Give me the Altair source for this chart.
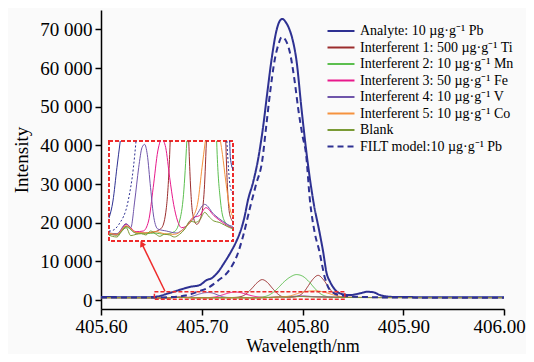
import altair as alt
import pandas as pd

# ---------------- data ----------------
series_names = [
    "Analyte: 10 µg·g⁻¹ Pb",
    "Interferent 1: 500 µg·g⁻¹ Ti",
    "Interferent 2: 10 µg·g⁻¹ Mn",
    "Interferent 3: 50 µg·g⁻¹ Fe",
    "Interferent 4: 10 µg·g⁻¹ V",
    "Interferent 5: 10 µg·g⁻¹ Co",
    "Blank",
    "FILT model:10 µg·g⁻¹ Pb",
]

wl_an = [405.60, 405.62, 405.64, 405.652, 405.659, 405.665, 405.672, 405.680, 405.688, 405.698,
         405.705, 405.710, 405.716, 405.722, 405.729, 405.734, 405.738, 405.742, 405.746, 405.751,
         405.756, 405.761, 405.765, 405.770, 405.774, 405.7775, 405.780, 405.783, 405.787, 405.790,
         405.794, 405.799, 405.804, 405.8106, 405.8173, 405.8205, 405.8239, 405.8272, 405.830, 405.837,
         405.847, 405.857, 405.864, 405.870, 405.877, 405.887, 405.90, 405.95, 406.00]
I_an = [800, 760, 720, 800, 1100, 1600, 2150, 2800, 3400, 3900,
        5200, 5700, 7200, 9500, 12500, 15000, 17500, 21000, 26000, 30500,
        36500, 45000, 53500, 63500, 69500, 72200, 72700, 72000, 70000, 67500,
        62000, 49500, 38000, 25800, 17000, 12500, 7000, 4800, 3500, 1750,
        1300, 1750, 2150, 2050, 1300, 860, 780, 750, 750]

wl_ti = [405.60, 405.64, 405.665, 405.679, 405.694, 405.709, 405.723, 405.733, 405.740, 405.745,
         405.750, 405.755, 405.760, 405.765, 405.770, 405.775, 405.780, 405.786, 405.792, 405.797,
         405.802, 405.806, 405.810, 405.8155, 405.821, 405.826, 405.831, 405.836, 405.845, 405.88, 406.00]
I_ti = [630, 620, 590, 720, 620, 620, 640, 700, 1000, 1800,
        3100, 4500, 5300, 4600, 3100, 1700, 900, 750, 850, 1200,
        2300, 3800, 5300, 6400, 5200, 3300, 1700, 900, 700, 660, 650]

wl_mn = [405.60, 405.64, 405.665, 405.679, 405.694, 405.709, 405.723, 405.737, 405.752, 405.760,
         405.766, 405.771, 405.776, 405.782, 405.788, 405.794, 405.800, 405.806, 405.812, 405.817,
         405.822, 405.828, 405.836, 405.845, 405.88, 406.00]
I_mn = [630, 620, 590, 710, 620, 610, 620, 600, 640, 800,
        1200, 2000, 3200, 4800, 6000, 6600, 6200, 4900, 3100, 1800,
        1100, 800, 720, 680, 660, 650]

wl_fe = [405.60, 405.64, 405.665, 405.679, 405.694, 405.705, 405.713, 405.720, 405.727, 405.733,
         405.739, 405.745, 405.751, 405.757, 405.763, 405.770, 405.780, 405.790, 405.800, 405.812,
         405.825, 405.840, 405.88, 406.00]
I_fe = [640, 630, 600, 750, 640, 650, 800, 1300, 1850, 2100,
        1900, 1450, 1050, 800, 700, 720, 850, 880, 1000, 880,
        780, 700, 660, 650]

wl_v = [405.60, 405.64, 405.665, 405.679, 405.686, 405.692, 405.698, 405.703, 405.707, 405.711,
        405.716, 405.721, 405.727, 405.740, 405.755, 405.770, 405.785, 405.798, 405.812, 405.825,
        405.840, 405.88, 406.00]
I_v = [640, 630, 610, 760, 700, 1100, 1600, 1900, 1950, 1800,
       1300, 850, 680, 650, 620, 720, 880, 1050, 900, 800,
       720, 670, 650]

wl_co = [405.60, 405.64, 405.665, 405.679, 405.694, 405.709, 405.723, 405.737, 405.752, 405.768,
         405.780, 405.788, 405.794, 405.799, 405.805, 405.812, 405.819, 405.825, 405.830, 405.836,
         405.845, 405.88, 406.00]
I_co = [660, 640, 600, 730, 630, 620, 640, 610, 600, 700,
        850, 1100, 1600, 2000, 2300, 2400, 2200, 1800, 1400, 1000,
        750, 680, 670]

wl_bl = [405.60, 405.62, 405.64, 405.652, 405.658, 405.665, 405.672, 405.679, 405.686, 405.694,
         405.702, 405.709, 405.716, 405.723, 405.730, 405.737, 405.745, 405.752, 405.760, 405.768,
         405.776, 405.784, 405.791, 405.798, 405.805, 405.812, 405.820, 405.828, 405.836, 405.845,
         405.86, 405.88, 405.92, 405.96, 406.00]
I_bl = [620, 610, 600, 590, 570, 560, 640, 700, 580, 600,
        610, 590, 650, 610, 570, 600, 590, 560, 600, 680,
        800, 780, 820, 930, 860, 800, 780, 740, 700, 670,
        650, 640, 630, 630, 630]

wl_fi = [405.60, 405.62, 405.64, 405.655, 405.668, 405.682, 405.690, 405.696, 405.705, 405.716,
         405.728, 405.735, 405.741, 405.748, 405.754, 405.760, 405.764, 405.768, 405.772, 405.776,
         405.7795, 405.783, 405.7875, 405.792, 405.796, 405.800, 405.8034, 405.8073, 405.8123, 405.8165,
         405.8222, 405.8272, 405.837, 405.857, 405.90, 406.00]
I_fi = [700, 680, 650, 650, 750, 1100, 1600, 2200, 3000, 5000,
        8000, 11500, 16500, 24000, 30000, 36000, 45000, 54000, 61500, 66000,
        68000, 67300, 64000, 57000, 49000, 42500, 38000, 26000, 17200, 12900,
        5800, 2600, 1300, 850, 650, 600]

# zoom window (red dashed box) and arrow, in data units
zoom_wl = [405.653, 405.842]
zoom_I = [200, 2150]
arrow_wl = [405.6635, 405.6405]
arrow_I = [2300, 14600]
inset_domain_wl = [405.653, 405.841]
inset_domain_I = [500, 2000]

x_ticks = [405.60, 405.70, 405.80, 405.90, 406.00]
y_ticks = [0, 10000, 20000, 30000, 40000, 50000, 60000, 70000]

# ---------------- styling ----------------
colors = ["#2e3192", "#9b2d2d", "#5cbf4f", "#e8198b", "#6f55aa", "#f5923e", "#7a9a35", "#2e3192"]
dashes = [[1, 0]] * 7 + [[6, 4]]
widths = [2, 1, 1, 1, 1, 1, 1, 2]
RED = "#ee2b2b"
FONT = "Liberation Serif"

all_wl = [wl_an, wl_ti, wl_mn, wl_fe, wl_v, wl_co, wl_bl, wl_fi]
all_I = [I_an, I_ti, I_mn, I_fe, I_v, I_co, I_bl, I_fi]

rows = []
for k, (name, xs, ys) in enumerate(zip(series_names, all_wl, all_I)):
    for j, (a, b) in enumerate(zip(xs, ys)):
        rows.append({"series": name, "wl": a, "I": b, "w": widths[k], "i": j})
df = pd.DataFrame(rows)


def clip_poly(xs, ys, x0, x1, y0, y1):
    segs, cur = [], []
    for i in range(len(xs) - 1):
        ax, ay, bx, by = xs[i], ys[i], xs[i + 1], ys[i + 1]
        dx, dy = bx - ax, by - ay
        t0, t1, ok = 0.0, 1.0, True
        for p, q in ((-dx, ax - x0), (dx, x1 - ax), (-dy, ay - y0), (dy, y1 - ay)):
            if p == 0:
                if q < 0:
                    ok = False
                    break
            else:
                r = q / p
                if p < 0:
                    if r > t1:
                        ok = False
                        break
                    t0 = max(t0, r)
                else:
                    if r < t0:
                        ok = False
                        break
                    t1 = min(t1, r)
        if not ok:
            if cur:
                segs.append(cur)
                cur = []
            continue
        p0 = (ax + t0 * dx, ay + t0 * dy)
        p1 = (ax + t1 * dx, ay + t1 * dy)
        if not cur:
            cur = [p0]
        cur.append(p1)
        if t1 < 1:
            segs.append(cur)
            cur = []
    if cur:
        segs.append(cur)
    return segs


irows = []
for name, xs, ys in zip(series_names, all_wl, all_I):
    segs = clip_poly(xs, ys, inset_domain_wl[0], inset_domain_wl[1], inset_domain_I[0], inset_domain_I[1])
    for s, seg in enumerate(segs):
        for j, (a, b) in enumerate(seg):
            irows.append({"series": name, "seg": f"{name}-{s}", "wl": a, "I": b, "i": j})
idf = pd.DataFrame(irows)

leg = alt.Legend(
    title=None, orient="none", legendX=232, legendY=13,
    symbolType="M-2,0H2", symbolSize=182, symbolStrokeWidth=2,
    labelFont=FONT, labelFontSize=14, labelColor="black", labelLimit=300,
    labelOffset=11, rowPadding=1.5, padding=0,
)

xs_main = alt.Scale(domain=[405.6, 406.0], nice=False, zero=False)
ys_main = alt.Scale(domain=[-2300, 75000], nice=False, zero=False)
cscale = alt.Scale(domain=series_names, range=colors)

main_lines = alt.Chart(df).mark_line(interpolate="monotone").encode(
    x=alt.X("wl:Q", scale=xs_main, axis=alt.Axis(
        values=x_ticks, format=".2f", title="Wavelength/nm", grid=False,
        labelFont=FONT, labelFontSize=19, titleFont=FONT, titleFontSize=18,
        titleFontWeight="normal", labelColor="black", titleColor="black",
        domainColor="black", tickColor="black", domainWidth=1.5, tickWidth=1.5,
        tickSize=6, labelPadding=2, titlePadding=1, labelFlush=False,
        labelOffset={"condition": {"test": "datum.value > 405.95", "value": -5}, "value": 0})),
    y=alt.Y("I:Q", scale=ys_main, axis=alt.Axis(
        values=y_ticks, labelExpr="replace(format(datum.value, ','), ',', ' ')",
        title="Intensity", grid=False,
        labelFont=FONT, labelFontSize=19, titleFont=FONT, titleFontSize=19,
        titleFontWeight="normal", labelColor="black", titleColor="black",
        domainColor="black", tickColor="black", domainWidth=1.5, tickWidth=1.5,
        tickSize=6, labelPadding=3, titlePadding=8, labelFlush=False)),
    color=alt.Color("series:N", scale=cscale, legend=leg),
    strokeDash=alt.StrokeDash("series:N", scale=alt.Scale(domain=series_names, range=dashes), legend=leg),
    strokeWidth=alt.StrokeWidth("w:Q", scale=None, legend=None),
    detail="series:N",
    order="i:Q",
)

zoom_df = pd.DataFrame({"wl": [zoom_wl[0]], "wl2": [zoom_wl[1]], "I": [zoom_I[0]], "I2": [zoom_I[1]]})
zoom_rect = alt.Chart(zoom_df).mark_rect(fill=None, stroke=RED, strokeWidth=1.5, strokeDash=[4, 2]).encode(
    x=alt.X("wl:Q", scale=xs_main), x2="wl2:Q", y=alt.Y("I:Q", scale=ys_main), y2="I2:Q")

arrow_df = pd.DataFrame({"wl": arrow_wl, "I": arrow_I, "i": [0, 1]})
arrow_line = alt.Chart(arrow_df).mark_line(color=RED, strokeWidth=1.5).encode(
    x=alt.X("wl:Q", scale=xs_main), y=alt.Y("I:Q", scale=ys_main), order="i:Q")
arrow_head = alt.Chart(arrow_df.iloc[[1]]).mark_point(
    shape="triangle-up", filled=True, color=RED, opacity=1, size=45, angle=333).encode(
    x=alt.X("wl:Q", scale=xs_main), y=alt.Y("I:Q", scale=ys_main))

main = alt.layer(main_lines, zoom_rect, arrow_line, arrow_head)

xs_in = alt.Scale(domain=inset_domain_wl, range=[8, 132], nice=False, zero=False)
ys_in = alt.Scale(domain=inset_domain_I, range=[231, 131], nice=False, zero=False)

box_df = pd.DataFrame({"wl": [inset_domain_wl[0]], "wl2": [inset_domain_wl[1]],
                       "I": [inset_domain_I[0]], "I2": [inset_domain_I[1]]})
inset_box = alt.Chart(box_df).mark_rect(fill="white", stroke=RED, strokeWidth=2, strokeDash=[4, 2]).encode(
    x=alt.X("wl:Q", scale=xs_in, axis=None), x2="wl2:Q",
    y=alt.Y("I:Q", scale=ys_in, axis=None), y2="I2:Q")

inset_solid = alt.Chart(idf[idf.series != series_names[-1]]).mark_line(
    strokeWidth=1, interpolate="monotone").encode(
    x=alt.X("wl:Q", scale=xs_in, axis=None),
    y=alt.Y("I:Q", scale=ys_in, axis=None),
    color=alt.Color("series:N", scale=cscale, legend=None),
    detail="seg:N", order="i:Q")
inset_dash = alt.Chart(idf[idf.series == series_names[-1]]).mark_line(
    strokeWidth=1, strokeDash=[2, 2], interpolate="monotone").encode(
    x=alt.X("wl:Q", scale=xs_in, axis=None),
    y=alt.Y("I:Q", scale=ys_in, axis=None),
    color=alt.Color("series:N", scale=cscale, legend=None),
    detail="seg:N", order="i:Q")

inset = alt.layer(inset_box, inset_solid, inset_dash)

chart = alt.layer(main, inset).resolve_scale(x="independent", y="independent").properties(
    width=403, height=299,
    padding={"left": 93, "top": 2, "right": 22, "bottom": 45},
    autosize=alt.AutoSizeParams(type="none"),
    background="#fafafa",
).configure_view(stroke=None).configure_legend(labelFont=FONT, labelFontSize=14)

chart.save("out.html", embed_options={"renderer": "svg", "actions": False})
